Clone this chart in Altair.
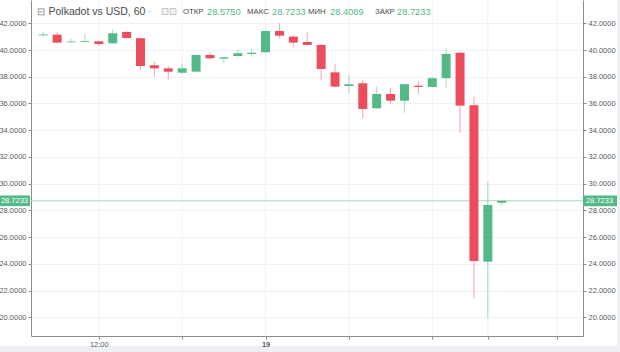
import altair as alt
import pandas as pd

# hourly candles, index 0 = 18th 08:00 ... index 33 = 19th 13:00
hours = list(range(34))
opens = [41.10, 41.15, 40.58, 40.60, 40.65, 40.50, 41.35, 40.88, 38.86, 38.63,
         38.30, 38.38, 39.63, 39.35, 39.55, 39.70, 39.83, 41.42, 41.00, 40.60,
         40.38, 38.33, 37.31, 37.51, 35.64, 36.71, 36.21, 37.33, 37.24, 37.89,
         39.80, 35.87, 24.17, 28.575]
highs = [41.33, 41.35, 40.83, 41.25, 40.70, 41.55, 41.42, 40.92, 39.13, 38.80,
         39.00, 39.65, 39.83, 39.50, 40.06, 40.06, 41.45, 42.00, 41.10, 41.37,
         40.42, 38.96, 38.13, 37.76, 37.26, 37.14, 37.44, 37.63, 37.95, 40.13,
         39.85, 36.51, 30.15, 28.7233]
lows = [41.00, 40.50, 40.55, 40.55, 40.30, 40.45, 40.85, 38.56, 38.00, 37.80,
        38.20, 38.33, 39.30, 39.00, 39.45, 39.50, 39.80, 40.88, 40.25, 40.35,
        37.76, 37.20, 36.76, 34.84, 35.60, 36.00, 35.31, 36.76, 37.20, 37.14,
        33.80, 21.45, 19.92, 28.4089]
closes = [41.16, 40.55, 40.64, 40.66, 40.45, 41.25, 40.90, 38.80, 38.63, 38.38,
          38.63, 39.63, 39.38, 39.45, 39.76, 39.80, 41.42, 41.07, 40.55, 40.38,
          38.58, 37.26, 37.44, 35.59, 36.71, 36.21, 37.44, 37.24, 37.89, 39.70,
          35.84, 24.22, 28.41, 28.7233]
last_price = [28.7233]
y_ticks = [20, 22, 24, 26, 28, 30, 32, 34, 36, 38, 40, 42]
x_ticks = [4, 10, 16, 22, 28, 32, 37]

GREEN = "#53b987"
RED = "#eb4d5c"
FONT = "Liberation Sans"
GRID = "#eef1f5"

df = pd.DataFrame({"i": hours, "open": opens, "high": highs, "low": lows, "close": closes})
df["dir"] = ["up" if c >= o else "down" for o, c in zip(opens, closes)]
lp = pd.DataFrame({"price": last_price, "txt": ["%.4f" % p for p in last_price]})
xt = pd.DataFrame({"t": x_ticks})

xs = alt.Scale(domain=[-0.523, 38.49], nice=False, zero=False)
ys = alt.Scale(domain=[18.61, 43.74], nice=False, zero=False)
cs = alt.Scale(domain=["up", "down"], range=[GREEN, RED])

base = alt.Chart(df)

vgrid = alt.Chart(xt).mark_rule(color=GRID, strokeWidth=1).encode(
    x=alt.X("t:Q", scale=xs, title=None))

wicks = base.mark_rule(strokeWidth=1, opacity=0.5).encode(
    x=alt.X("i:Q", scale=xs, title=None),
    y=alt.Y("low:Q", scale=ys, axis=None),
    y2="high:Q",
    color=alt.Color("dir:N", scale=cs, legend=None),
)

bodies = base.mark_bar(size=9, minBandSize=1.5).encode(
    x=alt.X("i:Q", scale=xs, title=None,
            axis=alt.Axis(values=x_ticks,
                          labelExpr="datum.value == 4 ? '12:00' : (datum.value == 16 ? '19' : '')",
                          labelFontWeight={"condition": {"test": "datum.value == 16", "value": "bold"},
                                           "value": "normal"},
                          labelPadding=1, zindex=1,
                          grid=False)),
    y=alt.Y("open:Q", scale=ys, title=None,
            axis=alt.Axis(orient="left", values=y_ticks, format=".4f", grid=True)),
    y2="close:Q",
    color=alt.Color("dir:N", scale=cs, legend=None),
)

pline = alt.Chart(lp).mark_rule(color="#a3dbbf", strokeWidth=1).encode(
    y=alt.Y("price:Q", scale=ys, title=None,
            axis=alt.Axis(orient="right", values=y_ticks, format=".4f", grid=False)),
)

boxbase = alt.Chart(lp).transform_calculate(
    top="datum.price + 0.4", bot="datum.price - 0.4"
)
lbox = boxbase.mark_rect(color=GREEN).encode(
    x=alt.value(-31), x2=alt.value(-1),
    y=alt.Y("top:Q", scale=ys, axis=None), y2="bot:Q")
rbox = boxbase.mark_rect(color=GREEN).encode(
    x=alt.value(552), x2=alt.value(586),
    y=alt.Y("top:Q", scale=ys, axis=None), y2="bot:Q")
ltxt = alt.Chart(lp).mark_text(color="white", font=FONT, fontSize=7.5, align="right", baseline="middle").encode(
    x=alt.value(-3), y=alt.Y("price:Q", scale=ys, axis=None), text="txt:N")
rtxt = alt.Chart(lp).mark_text(color="white", font=FONT, fontSize=7.5, align="left", baseline="middle").encode(
    x=alt.value(555), y=alt.Y("price:Q", scale=ys, axis=None), text="txt:N")

# bottom / right grey strips of the widget frame
strip_b = alt.Chart(lp).mark_rect(color="#eef0f3").encode(
    x=alt.value(-40), x2=alt.value(640), y=alt.value(346), y2=alt.value(360))
strip_r = alt.Chart(lp).mark_rect(color="#eef0f3").encode(
    x=alt.value(586), x2=alt.value(640), y=alt.value(-10), y2=alt.value(360))

# header legend
header_parts = [
    ("⊟", 6, "#8a8a8a", 10),
    ("Polkadot vs USD, 60", 17.5, "#4a4a4a", 10.5),
    ("·", 117, "#9a9a9a", 10),
    ("ОТКР", 152, "#4a4a4a", 7.8),
    ("28.5750", 176, GREEN, 9.3),
    ("МАКС", 216, "#4a4a4a", 7.8),
    ("28.7233", 241, GREEN, 9.3),
    ("МИН", 277, "#4a4a4a", 7.8),
    ("28.4089", 299, GREEN, 9.3),
    ("ЗАКР", 344, "#4a4a4a", 7.8),
    ("28.7233", 366, GREEN, 9.3),
]
header_layers = []
for t, px, col, fs in header_parts:
    header_layers.append(
        alt.Chart(lp).mark_text(text=t, align="left", baseline="middle", font=FONT,
                                fontSize=fs, color=col).encode(
            x=alt.value(px), y=alt.value(11.5)))
icons = []
for x0 in [131, 139]:
    icons.append(alt.Chart(lp).mark_rect(fill="#f0f0f0", stroke="#bdbdbd", strokeWidth=0.8).encode(
        x=alt.value(x0), x2=alt.value(x0 + 6), y=alt.value(8.5), y2=alt.value(14.5)))

chart = alt.layer(
    strip_b, strip_r, vgrid, pline, wicks, bodies, lbox, rbox, ltxt, rtxt, *header_layers, *icons
).resolve_axis(y="independent").properties(
    width=552, height=336,
    autosize=alt.AutoSizeParams(type="none"),
    padding={"left": 31, "right": 37, "top": 0, "bottom": 16},
    background="white",
).configure_view(stroke=None).configure_axis(
    labelFont=FONT, labelFontSize=7.5, labelColor="#5a5a5a",
    domainColor="#8c8c8c", tickColor="#8c8c8c", tickSize=3,
    gridColor=GRID, gridWidth=1, labelPadding=2,
)

chart.save("out.html", embed_options={"renderer": "svg", "actions": False})
